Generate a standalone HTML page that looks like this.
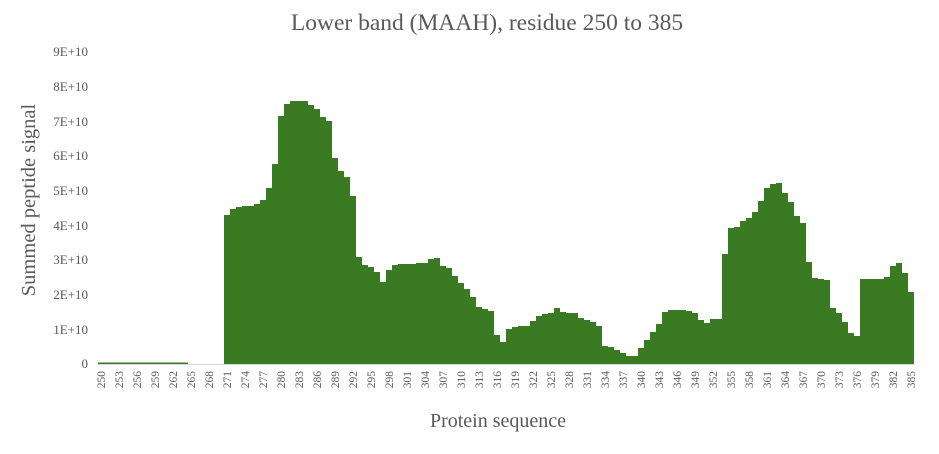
<!DOCTYPE html>
<html><head><meta charset="utf-8"><style>
html,body{margin:0;padding:0;background:#fff;}
svg{display:block;font-family:"Liberation Serif",serif;}
</style></head><body>
<svg id="s" width="939" height="454" viewBox="0 0 939 454" xmlns="http://www.w3.org/2000/svg">
<rect width="939" height="454" fill="#fff"/>
<text x="487" y="30" text-anchor="middle" font-size="23.5" fill="#595959">Lower band (MAAH), residue 250 to 385</text>
<text transform="translate(35,200) rotate(-90)" text-anchor="middle" font-size="20.5" fill="#595959">Summed peptide signal</text>
<text x="498" y="427" text-anchor="middle" font-size="20" fill="#595959">Protein sequence</text>
<g font-size="13" fill="#595959" text-anchor="end">
<text x="88" y="56">9E+10</text>
<text x="88" y="91">8E+10</text>
<text x="88" y="126">7E+10</text>
<text x="88" y="160">6E+10</text>
<text x="88" y="195">5E+10</text>
<text x="88" y="230">4E+10</text>
<text x="88" y="264">3E+10</text>
<text x="88" y="299">2E+10</text>
<text x="88" y="334">1E+10</text>
<text x="88" y="368">0</text>
</g>
<path id="bars" fill="#3a7a23" d=""/>
<line x1="98" y1="364.5" x2="915" y2="364.5" stroke="#d9d9d9" stroke-width="1"/>
<g font-size="11.5" fill="#595959" text-anchor="end">
<text transform="translate(105,371) rotate(-90)">250</text>
<text transform="translate(123,371) rotate(-90)">253</text>
<text transform="translate(141,371) rotate(-90)">256</text>
<text transform="translate(159,371) rotate(-90)">259</text>
<text transform="translate(177,371) rotate(-90)">262</text>
<text transform="translate(195,371) rotate(-90)">265</text>
<text transform="translate(213,371) rotate(-90)">268</text>
<text transform="translate(231,371) rotate(-90)">271</text>
<text transform="translate(249,371) rotate(-90)">274</text>
<text transform="translate(267,371) rotate(-90)">277</text>
<text transform="translate(285,371) rotate(-90)">280</text>
<text transform="translate(303,371) rotate(-90)">283</text>
<text transform="translate(321,371) rotate(-90)">286</text>
<text transform="translate(339,371) rotate(-90)">289</text>
<text transform="translate(357,371) rotate(-90)">292</text>
<text transform="translate(375,371) rotate(-90)">295</text>
<text transform="translate(393,371) rotate(-90)">298</text>
<text transform="translate(411,371) rotate(-90)">301</text>
<text transform="translate(429,371) rotate(-90)">304</text>
<text transform="translate(447,371) rotate(-90)">307</text>
<text transform="translate(465,371) rotate(-90)">310</text>
<text transform="translate(483,371) rotate(-90)">313</text>
<text transform="translate(501,371) rotate(-90)">316</text>
<text transform="translate(519,371) rotate(-90)">319</text>
<text transform="translate(537,371) rotate(-90)">322</text>
<text transform="translate(555,371) rotate(-90)">325</text>
<text transform="translate(573,371) rotate(-90)">328</text>
<text transform="translate(591,371) rotate(-90)">331</text>
<text transform="translate(609,371) rotate(-90)">334</text>
<text transform="translate(627,371) rotate(-90)">337</text>
<text transform="translate(645,371) rotate(-90)">340</text>
<text transform="translate(663,371) rotate(-90)">343</text>
<text transform="translate(681,371) rotate(-90)">346</text>
<text transform="translate(699,371) rotate(-90)">349</text>
<text transform="translate(717,371) rotate(-90)">352</text>
<text transform="translate(735,371) rotate(-90)">355</text>
<text transform="translate(753,371) rotate(-90)">358</text>
<text transform="translate(771,371) rotate(-90)">361</text>
<text transform="translate(789,371) rotate(-90)">364</text>
<text transform="translate(807,371) rotate(-90)">367</text>
<text transform="translate(825,371) rotate(-90)">370</text>
<text transform="translate(843,371) rotate(-90)">373</text>
<text transform="translate(861,371) rotate(-90)">376</text>
<text transform="translate(879,371) rotate(-90)">379</text>
<text transform="translate(897,371) rotate(-90)">382</text>
<text transform="translate(915,371) rotate(-90)">385</text>
</g>
</svg>
<script>
var t=[362.5,362.5,362.5,362.5,362.5,362.5,362.5,362.5,362.5,362.5,362.5,362.5,362.5,362.5,362.5,364,364,364,364,364,364,
215,209,207,206,206,204,200,188,164,116,104,101,101,101,105,109,117,121,158,171,177,196,257,265,
267,272,282,270,265,264,264,264,263,263,259,258,266,268,276,283,289,297,307,309,311,335,342,329,327,326,326,321,316,314,313,308,312,313,313,318,320,322,326,346,347,350,353,356,356,348,340,332,324,
312,310,310,310,311,313,320,323,319,319,254,228,227,221,218,212,201,188,184,183,193,202,216,223,262,278,279,280,308,313,322,333,336,279,279,279,279,277,266,263,273,292];
var d="M98,364";
for(var i=0;i<t.length;i++){var x=98+6*i;d+=" L"+x+","+t[i]+" L"+(x+6)+","+t[i];}
d+=" L"+(98+6*t.length)+",364 Z";
document.getElementById("bars").setAttribute("d",d);
</script>
</body></html>
